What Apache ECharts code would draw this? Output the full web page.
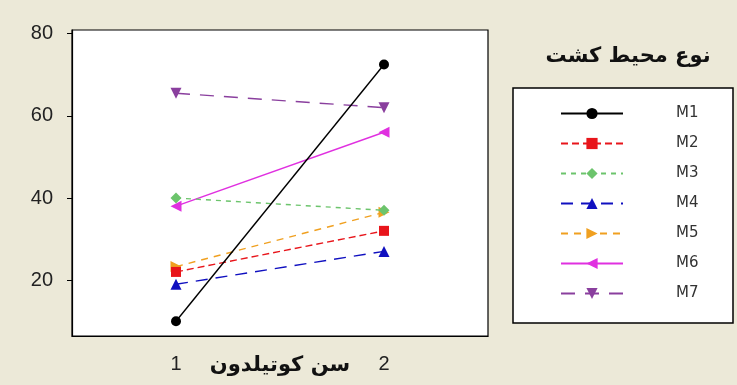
<!DOCTYPE html>
<html><head><meta charset="utf-8">
<script src="https://cdn.jsdelivr.net/npm/echarts@6/dist/echarts.min.js"></script>
<style>html,body{margin:0;padding:0;background:#ECE9D8;}#c{width:737px;height:385px;}</style>
</head><body><div id="c"></div>
<script>
const categories = ['1', '2'];
const seriesNames = ['M1', 'M2', 'M3', 'M4', 'M5', 'M6', 'M7'];
const M1 = [10, 72.5];
const M2 = [22, 32];
const M3 = [40, 37];
const M4 = [19, 27];
const M5 = [23.3, 36.5];
const M6 = [38, 56];
const M7 = [65.5, 62];
const yTicks = [20, 40, 60, 80];
const xTitle = 'سن کوتیلدون';
const legendTitle = 'نوع محیط کشت';

const values = [M1, M2, M3, M4, M5, M6, M7];
const colors = ['#000000', '#e8151b', '#6cc46c', '#1010c0', '#f0a020', '#e030e0', '#8a3f9e'];
const symbols = ['circle', 'rect', 'diamond', 'triangle', 'triangle', 'triangle', 'triangle'];
const rotations = [0, 0, 0, 0, -90, 90, 180];
const dashes = ['solid', [7, 4], [5, 5], [12, 8], [7, 6], 'solid', [14, 10]];
const sizes = [10, 10, 11, 11, 11, 11, 11];

const chart = echarts.init(document.getElementById('c'));
chart.setOption({
  animation: false,
  backgroundColor: '#ECE9D8',
  grid: { left: 72, right: 249, top: 30, bottom: 49, containLabel: false, outerBoundsMode: 'none',
          show: true, backgroundColor: '#ffffff', borderColor: '#000', borderWidth: 1.2 },
  xAxis: {
    type: 'category', data: categories, boundaryGap: true,
    axisLine: { lineStyle: { color: '#000', width: 1.2 } },
    axisTick: { alignWithLabel: true, length: 5, lineStyle: { color: '#000' } },
    axisLabel: { color: '#222', fontSize: 20, fontFamily: 'Liberation Sans', margin: 18 },
    name: xTitle, nameLocation: 'middle', nameGap: 19, nameMoveOverlap: false,
    nameTextStyle: { color: '#111', fontSize: 21, fontWeight: 'bold', fontFamily: 'DejaVu Sans' }
  },
  yAxis: {
    type: 'value', min: 6.4, max: 80.9,
    splitLine: { show: false },
    axisLine: { show: true, lineStyle: { color: '#000', width: 1.2 } },
    axisTick: { show: true, length: 5, customValues: yTicks, lineStyle: { color: '#000' } },
    axisLabel: { color: '#222', fontSize: 20, fontFamily: 'Liberation Sans', margin: 19, customValues: yTicks }
  },
  legend: {
    orient: 'vertical', left: 560, top: 106, padding: 0,
    itemWidth: 62, itemHeight: 14, itemGap: 15,
    data: seriesNames,
    textStyle: { color: '#333', fontSize: 15, fontFamily: 'DejaVu Sans', padding: [0, 0, 0, 48] }
  },
  graphic: [
    { type: 'rect', z: -1, shape: { x: 513, y: 88, width: 220, height: 235 }, style: { fill: '#fff', stroke: '#000', lineWidth: 1.5 } },
    { type: 'text', x: 628, y: 57, style: { text: legendTitle, fill: '#111', font: 'bold 21px "DejaVu Sans"', align: 'center', verticalAlign: 'middle' } }
  ],
  series: seriesNames.map((n, i) => ({
    name: n, type: 'line', data: values[i],
    symbol: symbols[i], symbolRotate: rotations[i], symbolSize: sizes[i],
    lineStyle: { color: colors[i], width: 1.4, type: dashes[i] },
    itemStyle: { color: colors[i] },
    z: 10 - i
  }))
});
</script></body></html>
